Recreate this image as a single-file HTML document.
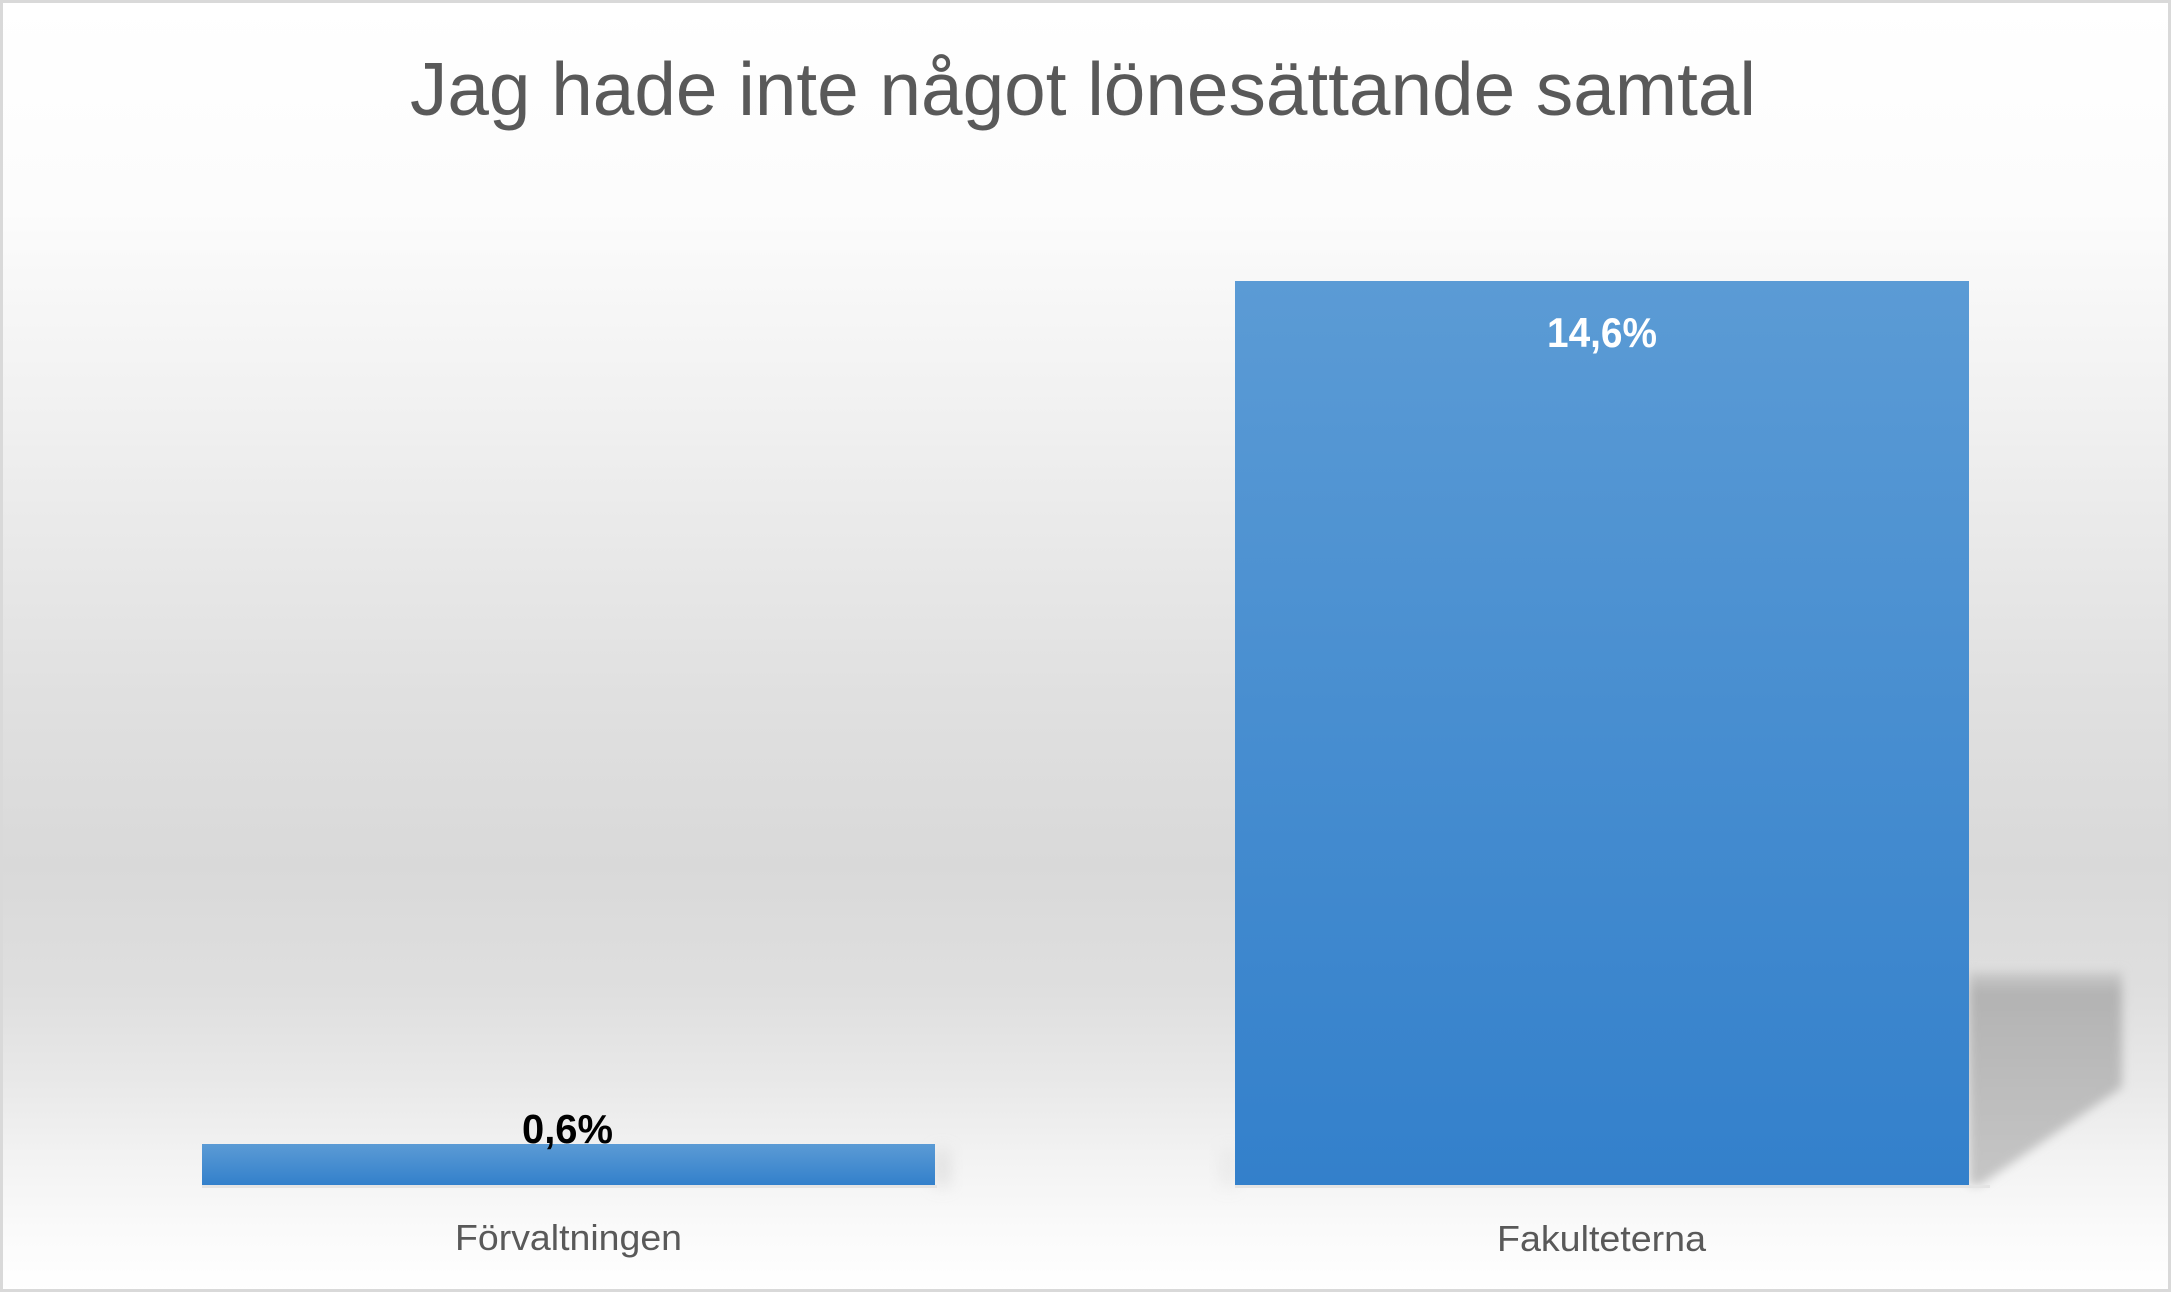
<!DOCTYPE html>
<html>
<head>
<meta charset="utf-8">
<style>
  html, body { margin: 0; padding: 0; background: #ffffff; }
  svg { display: block; }
</style>
</head>
<body>
<svg width="2171" height="1292" viewBox="0 0 2171 1292" xmlns="http://www.w3.org/2000/svg">
  <defs>
    <linearGradient id="bg" x1="0" y1="0" x2="0" y2="1292" gradientUnits="userSpaceOnUse">
      <stop offset="0" stop-color="#ffffff"/>
      <stop offset="0.16" stop-color="#fcfcfc"/>
      <stop offset="0.30" stop-color="#f2f2f2"/>
      <stop offset="0.42" stop-color="#e9e9e9"/>
      <stop offset="0.54" stop-color="#e0e0e0"/>
      <stop offset="0.67" stop-color="#d9d9d9"/>
      <stop offset="0.77" stop-color="#dfdfdf"/>
      <stop offset="0.84" stop-color="#e9e9e9"/>
      <stop offset="0.90" stop-color="#f3f3f3"/>
      <stop offset="0.96" stop-color="#fbfbfb"/>
      <stop offset="1" stop-color="#ffffff"/>
    </linearGradient>
    <linearGradient id="bar" x1="0" y1="0" x2="0" y2="1">
      <stop offset="0" stop-color="#5b9bd5"/>
      <stop offset="1" stop-color="#3380cb"/>
    </linearGradient>
    <linearGradient id="shadow" x1="0" y1="960" x2="0" y2="1190" gradientUnits="userSpaceOnUse">
      <stop offset="0" stop-color="#dadada"/>
      <stop offset="0.14" stop-color="#b3b3b3"/>
      <stop offset="1" stop-color="#c6c6c6"/>
    </linearGradient>
    <filter id="blur" x="-20%" y="-20%" width="140%" height="140%">
      <feGaussianBlur stdDeviation="5"/>
    </filter>
    <filter id="blur2" x="-100%" y="-50%" width="300%" height="200%">
      <feGaussianBlur stdDeviation="8"/>
    </filter>
  </defs>

  <!-- background + border -->
  <rect x="1.5" y="1.5" width="2168" height="1289" fill="url(#bg)" stroke="#d9d9d9" stroke-width="3"/>

  <!-- title -->
  <text x="410" y="115" font-family="Liberation Sans, sans-serif" font-size="75" fill="#595959" textLength="1346" lengthAdjust="spacingAndGlyphs">Jag hade inte något lönesättande samtal</text>

  <!-- shadow of bar 2 -->
  <polygon points="1969,972 2122,972 2122,1087 1980,1185 1969,1185" fill="url(#shadow)" filter="url(#blur)"/>
  <!-- small shadows -->
  <rect x="935" y="1150" width="14" height="36" fill="#d6d6d6" filter="url(#blur2)" opacity="0.7"/>
  <rect x="1222" y="1150" width="13" height="36" fill="#dcdcdc" filter="url(#blur2)" opacity="0.5"/>
  <rect x="202" y="1185" width="735" height="3" fill="#e4e4e4"/>
  <rect x="1235" y="1185" width="755" height="3" fill="#e4e4e4"/>

  <!-- bars -->
  <rect x="202" y="1144" width="733" height="41" fill="url(#bar)"/>
  <rect x="1235" y="281" width="734" height="904" fill="url(#bar)"/>

  <!-- data labels -->
  <text x="522" y="1143" font-family="Liberation Sans, sans-serif" font-weight="bold" font-size="41" fill="#000000" textLength="91" lengthAdjust="spacingAndGlyphs">0,6%</text>
  <text x="1547" y="347" font-family="Liberation Sans, sans-serif" font-weight="bold" font-size="42" fill="#ffffff" textLength="110" lengthAdjust="spacingAndGlyphs">14,6%</text>

  <!-- category labels -->
  <text x="455" y="1250" font-family="Liberation Sans, sans-serif" font-size="36" fill="#595959" textLength="227" lengthAdjust="spacingAndGlyphs">Förvaltningen</text>
  <text x="1497" y="1251" font-family="Liberation Sans, sans-serif" font-size="36" fill="#595959" textLength="209" lengthAdjust="spacingAndGlyphs">Fakulteterna</text>
</svg>
</body>
</html>
